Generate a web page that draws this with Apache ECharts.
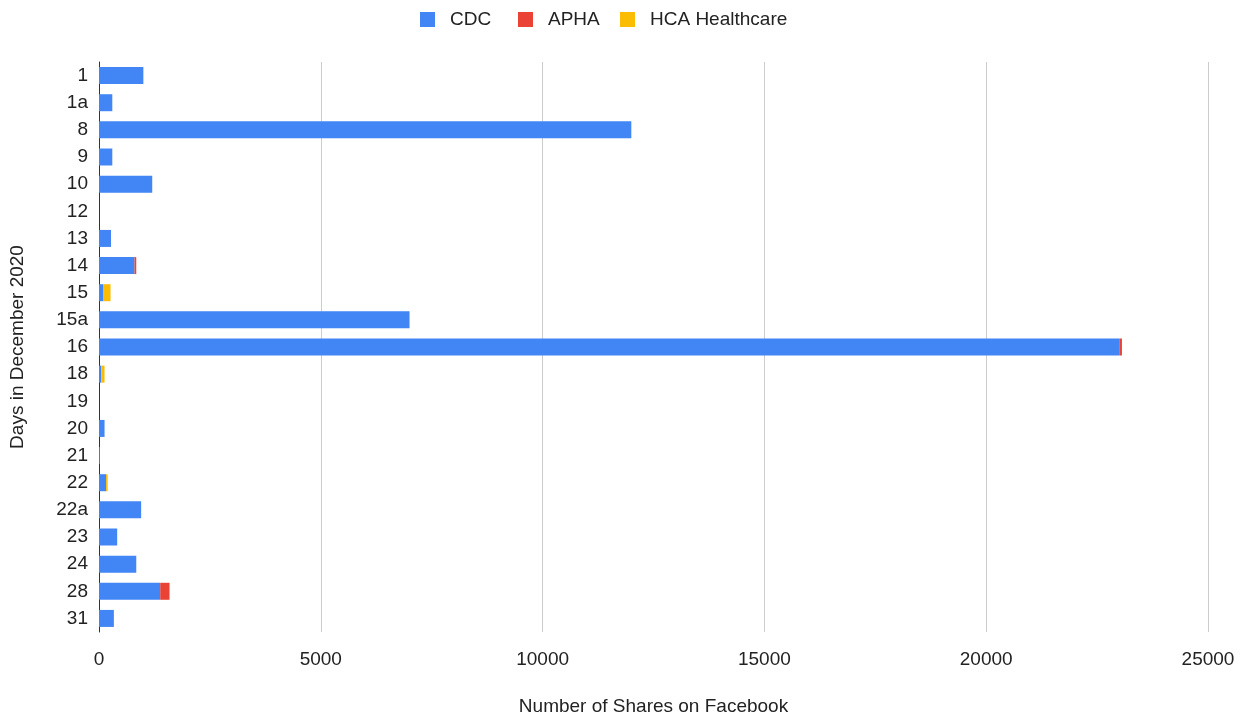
<!DOCTYPE html>
<html>
<head>
<meta charset="utf-8">
<script src="https://cdn.jsdelivr.net/npm/echarts@6/dist/echarts.min.js"></script>
<style>
  html, body { margin: 0; padding: 0; background: #fff; overflow: hidden; }
  #chart { width: 1246px; height: 721px; }
</style>
</head>
<body>
<div id="chart"></div>
<script>
// Facebook shares per post, December 2020
const days = ['1', '1a', '8', '9', '10', '12', '13', '14', '15', '15a', '16',
              '18', '19', '20', '21', '22', '22a', '23', '24', '28', '31'];
const cdc  = [1000, 300, 12000, 300, 1200, 0, 270, 800, 90, 7000, 23000,
              50, 0, 125, 20, 160, 950, 410, 840, 1380, 335];
const apha = [0, 0, 0, 0, 0, 0, 0, 40, 0, 0, 60,
              0, 0, 0, 0, 0, 0, 0, 0, 210, 0];
const hca  = [0, 0, 0, 0, 0, 0, 0, 0, 170, 0, 0,
              75, 0, 0, 0, 35, 0, 0, 0, 0, 0];
const xTicks = [0, 5000, 10000, 15000, 20000, 25000];

const seriesNames = ['CDC', 'APHA', 'HCA Healthcare'];
const seriesColors = ['#4285F4', '#EA4335', '#FBBC04'];
const legendLeft = [415, 513, 615];

const FONT = 'Liberation Sans, Arial, sans-serif';
const TEXT = '#222';
const chart = echarts.init(document.getElementById('chart'), null, { renderer: 'canvas' });

function bar(i, data) {
  return {
    name: seriesNames[i],
    type: 'bar',
    stack: 'shares',
    data: data,
    barWidth: 17,
    itemStyle: { color: seriesColors[i] },
    emphasis: { disabled: true }
  };
}

// one legend entry per component so each swatch can be placed on its own
const legends = seriesNames.map((n, i) => ({
  top: 5,
  left: legendLeft[i],
  itemWidth: 15,
  itemHeight: 15,
  icon: 'rect',
  data: [n],
  textStyle: { fontSize: 19, color: TEXT, fontFamily: FONT, padding: [0, 0, 0, 10] }
}));

chart.setOption({
  animation: false,
  textStyle: { fontFamily: FONT },
  legend: legends,
  grid: { left: 99, right: 38, top: 62, height: 580, containLabel: false },
  xAxis: {
    type: 'value',
    min: xTicks[0],
    max: xTicks[xTicks.length - 1],
    interval: xTicks[1] - xTicks[0],
    axisLine: { show: false },
    axisTick: { show: false },
    splitLine: { show: true, lineStyle: { color: '#cccccc', width: 1 } },
    axisLabel: { fontSize: 19, color: TEXT, margin: 18, fontFamily: FONT, formatter: v => String(v) },
    name: 'Number of Shares on Facebook',
    nameLocation: 'middle',
    nameGap: 65,
    nameTextStyle: { fontSize: 19, color: TEXT, fontFamily: FONT }
  },
  yAxis: {
    type: 'category',
    data: days,
    inverse: true,
    axisLine: { show: true, lineStyle: { color: '#333', width: 1 } },
    axisTick: { show: false },
    axisLabel: { fontSize: 19, color: TEXT, margin: 11, fontFamily: FONT },
    name: 'Days in December 2020',
    nameLocation: 'middle',
    nameRotate: 90,
    nameGap: 72,
    nameTextStyle: { fontSize: 19, color: TEXT, fontFamily: FONT }
  },
  series: [
    bar(0, cdc),
    bar(1, apha),
    bar(2, hca)
  ]
});
</script>
</body>
</html>
